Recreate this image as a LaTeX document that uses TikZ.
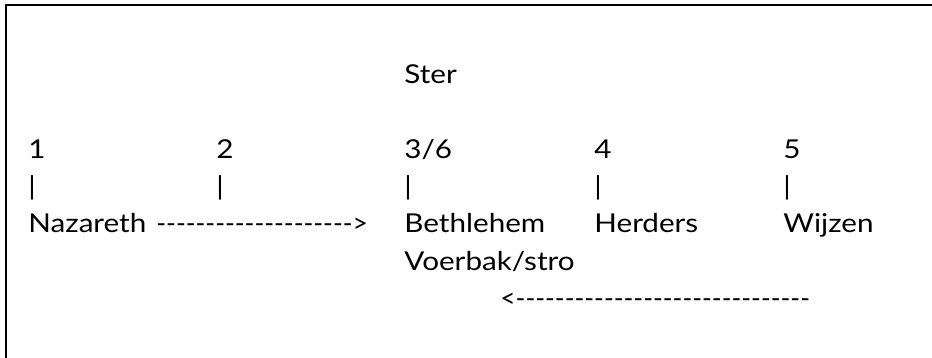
\documentclass[tikz,border=0pt]{standalone}
\usepackage{fontspec}
\setmainfont{Lato}[Ligatures=TeXOff,FakeStretch=1.14]
\usepackage{tikz}

\newcommand{\streep}[1]{\scalebox{0.89}[1]{#1}}

\begin{document}
\begin{tikzpicture}[x=0.5pt,y=-0.5pt,
  txt/.style={anchor=base west,inner sep=0pt,font=\fontsize{13}{15}\selectfont}]
\useasboundingbox (0,0) rectangle (932,358);
\draw[line width=1pt] (6,358) -- (6,5) -- (932,5);
%
\node[txt] (ster) at (404,84) {Ster};
%
\node[txt] (n1)  at (28,159)  {1};
\node[txt] (n2)  at (216,159) {2};
\node[txt] (n36) at (404,159) {3/6};
\node[txt] (n4)  at (594,159) {4};
\node[txt] (n5)  at (783,159) {5};
%
\node[txt] (p1) at (28,196)  {|};
\node[txt] (p2) at (216,196) {|};
\node[txt] (p3) at (404,196) {|};
\node[txt] (p4) at (594,196) {|};
\node[txt] (p5) at (783,196) {|};
%
\node[txt] (nazareth)  at (28,233)  {Nazareth};
\node[txt] (heen)      at (156,233) {\streep{-------------------->}};
\node[txt] (bethlehem) at (404,233) {Bethlehem};
\node[txt] (herders)   at (594,233) {Herders};
\node[txt] (wijzen)    at (783,233) {Wijzen};
%
\node[txt] (voerbak) at (404,270) {Voerbak/stro};
\node[txt] (terug)   at (500,307) {\streep{<------------------------------}};
%
\end{tikzpicture}
\end{document}
